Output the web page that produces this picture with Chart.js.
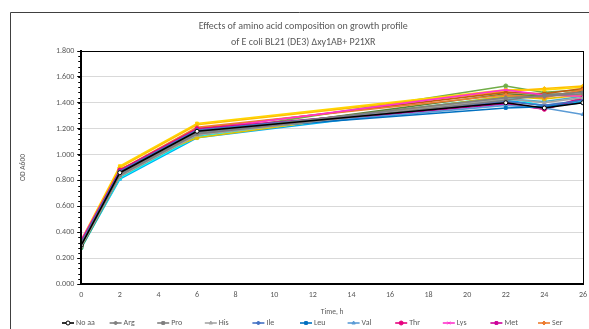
<!DOCTYPE html>
<html>
<head>
<meta charset="utf-8">
<script src="https://cdn.jsdelivr.net/npm/chart.js@4.4.0/dist/chart.umd.min.js"></script>
<style>
  html, body { margin: 0; padding: 0; background: #fff; overflow: hidden; }
  #wrap { width: 589px; height: 329px; position: relative; }
</style>
</head>
<body>
<div id="wrap"><canvas id="chart"></canvas></div>
<script>
// sampling times (h)
const times = [0, 2, 6, 22, 24, 26];
const yTicks = [0, 0.2, 0.4, 0.6, 0.8, 1.0, 1.2, 1.4, 1.6, 1.8];

// OD A600 per condition
const noAa = [0.30, 0.86, 1.18, 1.40, 1.36, 1.40];
const arg  = [0.31, 0.85, 1.17, 1.44, 1.45, 1.47];
const pro  = [0.30, 0.84, 1.16, 1.42, 1.46, 1.48];
const his  = [0.29, 0.83, 1.15, 1.43, 1.40, 1.44];
const ile  = [0.32, 0.87, 1.19, 1.41, 1.38, 1.42];
const leu  = [0.31, 0.85, 1.18, 1.36, 1.37, 1.40];
const val  = [0.30, 0.84, 1.17, 1.38, 1.36, 1.31];
const thr  = [0.33, 0.88, 1.20, 1.40, 1.35, 1.44];
const lys  = [0.34, 0.87, 1.19, 1.50, 1.46, 1.45];
const met  = [0.32, 0.86, 1.18, 1.39, 1.35, 1.43];
const ser  = [0.31, 0.88, 1.21, 1.46, 1.44, 1.50];
const gly  = [0.30, 0.87, 1.20, 1.48, 1.47, 1.51];
const ala  = [0.33, 0.90, 1.23, 1.49, 1.51, 1.53];
const cys  = [0.34, 0.91, 1.24, 1.50, 1.50, 1.52];
const asn  = [0.32, 0.89, 1.13, 1.45, 1.43, 1.46];
const gln  = [0.29, 0.84, 1.16, 1.53, 1.48, 1.50];
const glu  = [0.28, 0.83, 1.15, 1.47, 1.45, 1.49];
const asp  = [0.30, 0.85, 1.17, 1.44, 1.47, 1.46];
const phe  = [0.28, 0.82, 1.14, 1.45, 1.37, 1.42];
const tyr  = [0.28, 0.81, 1.13, 1.42, 1.38, 1.41];
const trp  = [0.29, 0.83, 1.15, 1.43, 1.41, 1.45];

const FONT = 'Carlito, Lato, "Liberation Sans", sans-serif';
const TXT = '#595959';

function series(label, values, color, style, fill) {
    return {
        label: label,
        data: values.map((v, i) => ({ x: times[i], y: v })),
        borderColor: color,
        backgroundColor: fill || color,
        pointStyle: style,
        pointRadius: 2,
        pointBorderWidth: 1,
        borderWidth: 1.6,
        tension: 0,
    };
}

const datasets = [
    series('No aa', noAa, '#000000', 'circle', '#ffffff'),
    series('Arg', arg, '#808080', 'rectRot'),
    series('Pro', pro, '#7f7f7f', 'rect'),
    series('His', his, '#a5a5a5', 'triangle'),
    series('Ile', ile, '#4472c4', 'rectRot'),
    series('Leu', leu, '#0070c0', 'rect'),
    series('Val', val, '#5b9bd5', 'triangle'),
    series('Thr', thr, '#e6007e', 'circle'),
    series('Lys', lys, '#ff33cc', 'crossRot'),
    series('Met', met, '#cc0099', 'rect'),
    series('Ser', ser, '#ed7d31', 'rectRot'),
    series('Gly', gly, '#c55a11', 'rect'),
    series('Ala', ala, '#ffc000', 'rectRot'),
    series('Cys', cys, '#ffd700', 'rect'),
    series('Asn', asn, '#e5c100', 'circle'),
    series('Gln', gln, '#70ad47', 'circle'),
    series('Glu', glu, '#548235', 'rect'),
    series('Asp', asp, '#77933c', 'rectRot'),
    series('Phe', phe, '#00ffff', 'rect'),
    series('Tyr', tyr, '#00b0f0', 'triangle'),
    series('Trp', trp, '#4bacc6', 'circle'),
];

// frame, plot box, minor ticks, x title and the (cropped) legend row
const extras = {
    id: 'extras',
    beforeDraw(chart) {
        const ctx = chart.ctx;
        ctx.save();
        ctx.strokeStyle = '#404040';
        ctx.lineWidth = 1;
        ctx.beginPath();
        ctx.moveTo(10.5, 329);
        ctx.lineTo(10.5, 12.5);
        ctx.lineTo(589, 12.5);
        ctx.stroke();
        ctx.restore();
    },
    afterDraw(chart) {
        const ctx = chart.ctx;
        const a = chart.chartArea;
        const y = chart.scales.y;
        ctx.save();
        ctx.strokeStyle = '#000';
        ctx.lineWidth = 1;
        ctx.strokeRect(Math.round(a.left) + 0.5, Math.round(a.top) + 0.5,
            Math.round(a.right - a.left), Math.round(a.bottom - a.top));
        ctx.beginPath();
        for (let v = 0; v <= 1.8001; v += 0.04) {
            const py = Math.round(y.getPixelForValue(v)) + 0.5;
            ctx.moveTo(a.left - 3, py);
            ctx.lineTo(a.left, py);
        }
        ctx.stroke();

        ctx.textBaseline = 'middle';
        ctx.fillStyle = TXT;
        ctx.font = '7.5px ' + FONT;
        ctx.textAlign = 'center';
        ctx.fillText('Time, h', (a.left + a.right) / 2, 312);

        // legend: first row of entries, fixed slots like the original
        ctx.font = '8px ' + FONT;
        ctx.textAlign = 'left';
        const ly = 323;
        datasets.slice(0, 11).forEach((ds, i) => {
            const lx = 62 + i * 47.6;
            ctx.strokeStyle = ds.borderColor;
            ctx.lineWidth = 1.6;
            ctx.beginPath();
            ctx.moveTo(lx, ly);
            ctx.lineTo(lx + 12, ly);
            ctx.stroke();
            ctx.fillStyle = ds.backgroundColor;
            ctx.lineWidth = 1;
            Chart.helpers.drawPoint(ctx, { pointStyle: ds.pointStyle, radius: 2, rotation: 0, borderWidth: 1 }, lx + 6, ly);
            ctx.fillStyle = TXT;
            ctx.fillText(ds.label, lx + 14, ly);
        });
        ctx.restore();
    }
};

new Chart(document.getElementById('chart'), {
    type: 'line',
    data: { datasets: datasets },
    plugins: [extras],
    options: {
        responsive: true,
        maintainAspectRatio: false,
        animation: false,
        layout: { padding: { top: 4, left: 19, right: 1.5, bottom: 9 } },
        plugins: {
            legend: { display: false },
            tooltip: { enabled: false },
            title: {
                display: true,
                text: ['Effects of amino acid composition on growth profile',
                       'of E coli BL21 (DE3) \u2206xy1AB+ P21XR'],
                color: TXT,
                font: { family: FONT, size: 10, weight: 'normal', lineHeight: 1.65 },
                padding: { top: 14, bottom: 0 },
            },
        },
        scales: {
            x: {
                type: 'linear',
                position: 'bottom',
                min: 0,
                max: 26,
                afterFit: (scale) => { scale.height = 36; },
                ticks: { stepSize: 2, color: TXT, font: { family: FONT, size: 8 }, padding: 2, maxRotation: 0 },
                grid: { display: false, tickLength: 4 },
                border: { color: '#000', width: 2 },
            },
            y: {
                min: 0,
                max: 1.8,
                afterBuildTicks: (scale) => { scale.ticks = yTicks.map((v) => ({ value: v })); },
                ticks: { color: TXT, font: { family: FONT, size: 8 }, padding: 3, callback: (v) => Number(v).toFixed(3) },
                grid: { color: '#d9d9d9', lineWidth: 1, tickColor: '#000', tickLength: 4 },
                border: { color: '#000', width: 2 },
                title: { display: true, text: 'OD A600', color: TXT, font: { family: FONT, size: 7.5 }, padding: { top: 0, bottom: 25 } },
            },
        },
    },
});
</script>
</body>
</html>
